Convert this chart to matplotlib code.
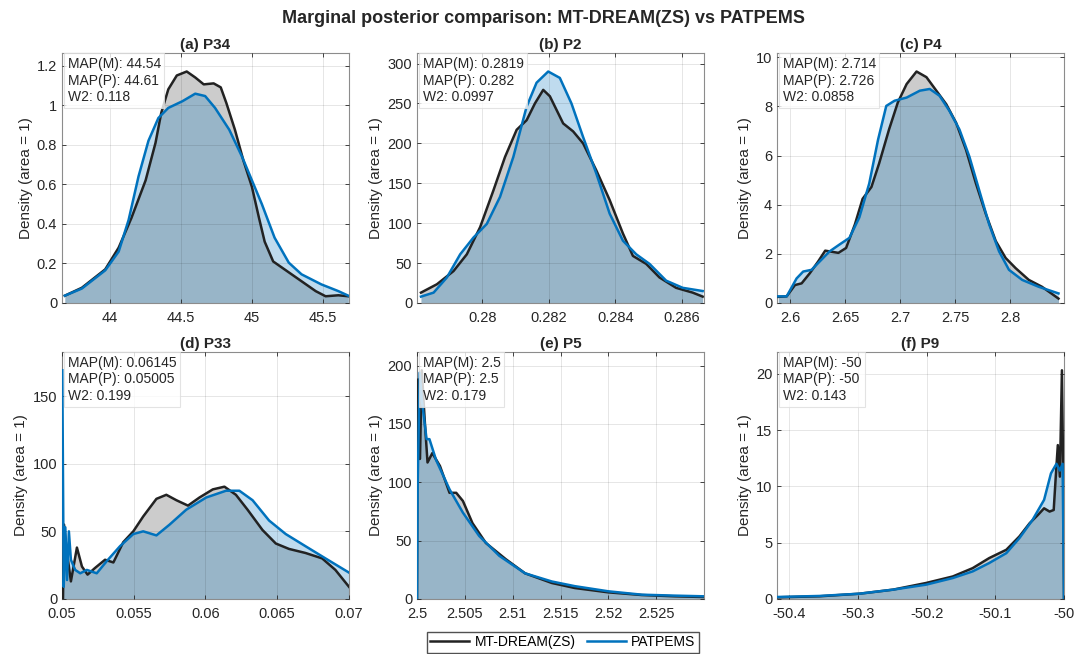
import numpy as np
import matplotlib
matplotlib.use("Agg")
import matplotlib.pyplot as plt
from matplotlib.ticker import FuncFormatter

plt.rcParams['font.family'] = ['Liberation Sans', 'DejaVu Sans']

# (a) P34
a_xm = [43.68, 43.80, 43.965, 44.06, 44.15, 44.25, 44.32, 44.36, 44.41, 44.47, 44.54, 44.60,
        44.66, 44.73, 44.78, 44.82, 44.88, 44.94, 45.0, 45.05, 45.09, 45.15, 45.21, 45.28,
        45.35, 45.45, 45.52, 45.61, 45.68]
a_ym = [0.037, 0.077, 0.17, 0.28, 0.43, 0.62, 0.81, 0.96, 1.08, 1.15, 1.17, 1.14, 1.105,
        1.11, 1.09, 1.01, 0.876, 0.72, 0.587, 0.43, 0.31, 0.21, 0.18, 0.145, 0.11, 0.06,
        0.034, 0.039, 0.034]
a_xp = [43.68, 43.80, 43.965, 44.06, 44.13, 44.20, 44.27, 44.34, 44.41, 44.51, 44.60, 44.67,
        44.74, 44.84, 44.93, 45.0, 45.07, 45.16, 45.26, 45.35, 45.49, 45.61, 45.68]
a_yp = [0.037, 0.073, 0.165, 0.26, 0.42, 0.64, 0.82, 0.935, 0.986, 1.02, 1.058, 1.046, 0.986,
        0.876, 0.74, 0.62, 0.50, 0.33, 0.204, 0.145, 0.094, 0.06, 0.037]

# (b) P2
b_xm = [0.27815, 0.27863, 0.27913, 0.27953, 0.27993, 0.28033, 0.28068, 0.28103, 0.28133,
        0.28158, 0.28183, 0.28203, 0.28223, 0.28243, 0.28273, 0.28303, 0.28343, 0.28383,
        0.28423, 0.28453, 0.28493, 0.28533, 0.28583, 0.28633, 0.28663]
b_ym = [13, 23.5, 40, 61, 95, 141, 183, 217, 229, 250, 267, 259, 242, 225, 215, 200, 166,
        129, 87, 59, 49, 32, 19, 13, 8]
b_xp = [0.27815, 0.27853, 0.27893, 0.27933, 0.27973, 0.28013, 0.28053, 0.28093, 0.28133,
        0.28163, 0.28198, 0.28233, 0.28268, 0.28303, 0.28343, 0.28383, 0.28423, 0.28463,
        0.28503, 0.28553, 0.28603, 0.28663]
b_yp = [8, 13, 32, 61, 82, 99, 133, 183, 246, 276, 290, 282, 250, 208, 162, 112, 78, 61,
        49, 28, 19, 15]

# (c) P4
c_xm = [2.5894, 2.597, 2.6045, 2.6106, 2.618, 2.6256, 2.632, 2.636, 2.644, 2.651, 2.659,
        2.666, 2.674, 2.681, 2.690, 2.698, 2.706, 2.715, 2.724, 2.733, 2.742, 2.751, 2.760,
        2.769, 2.778, 2.787, 2.796, 2.805, 2.817, 2.829, 2.844]
c_ym = [0.25, 0.27, 0.73, 0.8, 1.21, 1.69, 2.13, 2.1, 2.04, 2.24, 3.2, 4.24, 4.72, 5.68,
        7.06, 8.16, 8.91, 9.42, 9.19, 8.64, 8.09, 7.33, 6.23, 4.86, 3.62, 2.52, 1.83, 1.42,
        0.94, 0.66, 0.18]
c_xp = [2.5894, 2.597, 2.606, 2.612, 2.6196, 2.627, 2.636, 2.645, 2.654, 2.663, 2.672, 2.680,
        2.6875, 2.695, 2.706, 2.718, 2.727, 2.736, 2.745, 2.754, 2.763, 2.772, 2.781, 2.790,
        2.799, 2.811, 2.826, 2.844]
c_yp = [0.27, 0.27, 1.0, 1.28, 1.35, 1.69, 2.1, 2.38, 2.65, 3.48, 4.86, 6.64, 8.02, 8.23,
        8.36, 8.64, 8.71, 8.43, 7.81, 7.06, 5.96, 4.58, 3.2, 2.1, 1.35, 0.94, 0.66, 0.39]

# (d) P33
d_xm = [0.05007, 0.05014, 0.05035, 0.05062, 0.05104, 0.05139, 0.05178, 0.05231, 0.0530,
        0.05358, 0.05427, 0.05497, 0.05566, 0.05658, 0.05727, 0.05797, 0.05878, 0.05958,
        0.06051, 0.06132, 0.06212, 0.06293, 0.06397, 0.0649, 0.06582, 0.06697, 0.06813,
        0.06905, 0.0700]
d_ym = [0, 55, 34, 13, 38, 24, 18, 23, 29, 27, 42, 50, 61, 74, 77, 73, 69, 75, 81, 83,
        77, 66, 51, 41, 37, 34, 30, 21.5, 9]
d_xp = [0.05002, 0.05012, 0.05023, 0.05035, 0.05048, 0.05062, 0.05092, 0.05127, 0.05173,
        0.05242, 0.05312, 0.05404, 0.05497, 0.05566, 0.05658, 0.0575, 0.05866, 0.06005,
        0.06143, 0.06236, 0.06328, 0.06443, 0.06559, 0.06697, 0.06836, 0.0700]
d_yp = [169, 9, 53, 14, 50, 29, 21.5, 19, 21.5, 19, 28, 39, 48, 50, 47, 55, 66, 75, 80,
        80, 73, 58, 48, 39, 30, 19.5]

# (e) P5
e_xm = [2.5, 2.50007, 2.50028, 2.5003, 2.5005, 2.5008, 2.5011, 2.5016, 2.5024, 2.5034,
        2.5041, 2.5048, 2.5058, 2.5072, 2.5093, 2.5113, 2.5141, 2.5165, 2.52, 2.5235,
        2.5269, 2.53]
e_ym = [0, 188, 188, 120, 196, 154, 117, 125, 114, 91, 91, 84, 65, 48, 34, 22, 13.7,
        9.4, 5.7, 3.4, 2.3, 1.7]
e_xp = [2.5, 2.50007, 2.50028, 2.5005, 2.5010, 2.5013, 2.502, 2.5034, 2.5048, 2.5065,
        2.5086, 2.5113, 2.5141, 2.5165, 2.52, 2.5235, 2.5269, 2.53]
e_yp = [0, 97, 194, 171, 137, 137, 119, 94, 74, 54, 37, 22, 15, 11, 6.6, 3.7, 2.9, 2.3]

# (f) P9
f_xm = [-50.417, -50.356, -50.298, -50.249, -50.201, -50.162, -50.133, -50.109, -50.084,
        -50.065, -50.050, -50.038, -50.029, -50.021, -50.015, -50.012, -50.009, -50.006,
        -50.003, -50.001, -50.0]
f_ym = [0.15, 0.24, 0.47, 0.83, 1.42, 2.0, 2.74, 3.63, 4.37, 5.55, 6.73, 7.46, 8.05,
        7.76, 7.9, 10.86, 13.66, 10.86, 20.3, 10, 0]
f_xp = [-50.417, -50.356, -50.298, -50.249, -50.201, -50.162, -50.133, -50.109, -50.084,
        -50.065, -50.046, -50.029, -50.019, -50.011, -50.006, -50.002, -50.0]
f_yp = [0.18, 0.27, 0.47, 0.83, 1.27, 1.86, 2.45, 3.19, 4.07, 5.4, 7.0, 8.8, 11.15, 12.0,
        11.4, 12.0, 0]

titles = ['(a) P34', '(b) P2', '(c) P4', '(d) P33', '(e) P5', '(f) P9']
map_m = ['44.54', '0.2819', '2.714', '0.06145', '2.5', '-50']
map_p = ['44.61', '0.282', '2.726', '0.05005', '2.5', '-50']
w2 = ['0.118', '0.0997', '0.0858', '0.199', '0.179', '0.143']
xlims = [(43.66, 45.685), (0.27803, 0.28667), (2.5882, 2.849), (0.05, 0.07), (2.5, 2.530),
         (-50.418, -50.0)]
xticks = [[44, 44.5, 45, 45.5], [0.28, 0.282, 0.284, 0.286], [2.6, 2.65, 2.7, 2.75, 2.8],
          [0.05, 0.055, 0.06, 0.065, 0.07], [2.5, 2.505, 2.51, 2.515, 2.52, 2.525],
          [-50.4, -50.3, -50.2, -50.1, -50]]
yticks = [[0, 0.2, 0.4, 0.6, 0.8, 1, 1.2], [0, 50, 100, 150, 200, 250, 300],
          [0, 2, 4, 6, 8, 10], [0, 50, 100, 150], [0, 50, 100, 150, 200],
          [0, 5, 10, 15, 20]]

curves = [(a_xm, a_ym, a_xp, a_yp), (b_xm, b_ym, b_xp, b_yp), (c_xm, c_ym, c_xp, c_yp),
          (d_xm, d_ym, d_xp, d_yp), (e_xm, e_ym, e_xp, e_yp), (f_xm, f_ym, f_xp, f_yp)]

black = '#222222'
blue = '#0072BD'
txt = '#262626'

fig = plt.figure(figsize=(10.88, 6.54), dpi=100)
lefts = [62, 417, 777]
fmt = FuncFormatter(lambda v, p: '%g' % round(v, 6))

for i in range(6):
    r, c = divmod(i, 3)
    top, bot = (53, 303) if r == 0 else (352, 599)
    ax = fig.add_axes([lefts[c] / 1088, (654 - bot) / 654, 287 / 1088, (bot - top) / 654])
    xm, ym, xp, yp = curves[i]
    ax.fill_between(xm, ym, 0, color='#808080', alpha=0.4, lw=0, zorder=1)
    ax.fill_between(xp, yp, 0, color=blue, alpha=0.25, lw=0, zorder=1.1)
    ax.plot(xm, ym, color=black, lw=1.8, zorder=3, label='MT-DREAM(ZS)',
            solid_joinstyle='round')
    ax.plot(xp, yp, color=blue, lw=1.8, zorder=3.1, label='PATPEMS',
            solid_joinstyle='round')
    ymax = max(max(ym), max(yp))
    ax.set_xlim(*xlims[i])
    ax.set_ylim(0, ymax * 1.08)
    ax.set_xticks(xticks[i])
    ax.set_yticks(yticks[i])
    ax.xaxis.set_major_formatter(fmt)
    ax.yaxis.set_major_formatter(fmt)
    ax.set_axisbelow(False)
    ax.grid(True, color='#000000', alpha=0.1, lw=0.7)
    ax.tick_params(direction='in', length=3, top=True, right=True, labelsize=10.5,
                   colors=txt, width=0.6)
    ax.tick_params(axis='x', pad=6)
    for s in ax.spines.values():
        s.set_color('#8c8c8c')
        s.set_linewidth(0.8)
    ax.set_ylabel('Density (area = 1)', fontsize=11, color=txt, labelpad=3)
    ax.set_title(titles[i], fontsize=11, fontweight='bold', color=txt, pad=3)
    ax.text(0.02, 0.985, 'MAP(M): %s\nMAP(P): %s\nW2: %s' % (map_m[i], map_p[i], w2[i]),
            transform=ax.transAxes, va='top', ha='left', fontsize=10, color=txt,
            linespacing=1.25, zorder=5,
            bbox=dict(boxstyle='square,pad=0.25', fc='white', ec='#dddddd', alpha=0.8, lw=0.8))
    if i == 4:
        handles, labels = ax.get_legend_handles_labels()

fig.legend(handles, labels, loc='lower center', bbox_to_anchor=(563 / 1088, 0.002), ncol=2,
           fontsize=10, frameon=True, fancybox=False, edgecolor='#262626',
           handlelength=2.8, columnspacing=0.8, handletextpad=0.4, borderpad=0.25,
           borderaxespad=0.0)
fig.suptitle('Marginal posterior comparison: MT-DREAM(ZS) vs PATPEMS', fontsize=13,
             fontweight='bold', color=txt, y=0.985)

fig.savefig('out.png', dpi=100)
